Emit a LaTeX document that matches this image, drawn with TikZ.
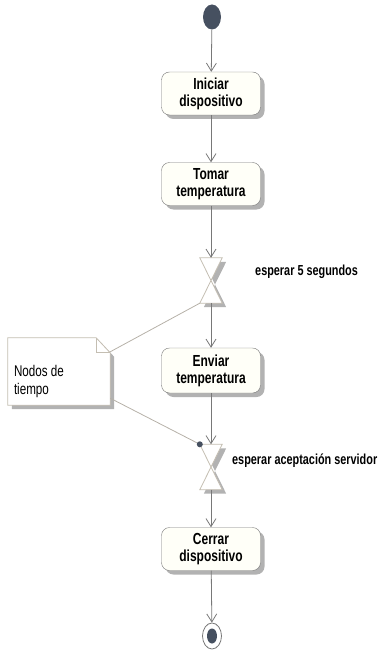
\documentclass[tikz,border=0pt]{standalone}
\usepackage{fontspec}
\setmainfont{Liberation Sans}[FakeStretch=0.75]
\usetikzlibrary{arrows.meta,shapes.geometric,shadows,backgrounds}
\definecolor{linea}{RGB}{120,120,120}
\definecolor{caja}{RGB}{255,255,248}
\definecolor{sombra}{RGB}{178,178,178}
\definecolor{oscuro}{RGB}{70,80,96}
\definecolor{borde}{RGB}{196,190,178}
\tikzset{
  sombreado/.style={drop shadow={shadow xshift=4pt, shadow yshift=-4pt, fill=sombra, opacity=1}},
  actividad/.style={draw=linea, fill=caja, rounded corners=8pt, minimum width=99pt,
    minimum height=43pt, align=center, sombreado,
    font=\bfseries\fontsize{16}{17}\selectfont},
  reloj/.style={minimum width=22pt, minimum height=45pt, inner sep=0pt},
  flujo/.style={draw=linea, line width=0.8pt, -{Straight Barb[length=8pt,width=10pt]}},
  enlace/.style={draw=borde!80!gray, line width=0.8pt},
  etiqueta/.style={anchor=west, inner sep=0pt, font=\bfseries\fontsize{14.5}{17}\selectfont}
}
\begin{document}
\begin{tikzpicture}[x=1pt, y=-1pt]
\useasboundingbox (0,0) rectangle (380,650);
\node [ellipse, fill=oscuro, minimum width=18pt, minimum height=25pt, inner sep=0pt] (inicio) at (212,17) {};
\node [actividad] (iniciar) at (211,93.5) {Iniciar\\dispositivo};
\node [actividad] (tomar) at (211,184) {Tomar\\temperatura};
\node [reloj] (espera1) at (211,280.5) {};
\node [actividad, minimum height=45pt] (enviar) at (211,370.5) {Enviar\\temperatura};
\node [reloj] (espera2) at (211,467) {};
\node [actividad] (cerrar) at (211,549) {Cerrar\\dispositivo};
\node [ellipse, draw=linea, fill=white, line width=0.8pt, minimum width=19pt, minimum height=26pt, inner sep=0pt] (fin) at (212,636) {};
\fill [oscuro] (fin.center) ellipse (5pt and 7.5pt);
\node [minimum width=102pt, minimum height=67pt, inner sep=0pt, font=\fontsize{15.5}{18}\selectfont] (nota) at (59,371.5)
  {\raisebox{-14pt}[0pt][0pt]{\parbox{90pt}{Nodos de\\tiempo}}};
\node [etiqueta] (texto1) at (255,272) {esperar 5 segundos};
\node [etiqueta] (texto2) at (232,461) {esperar aceptación servidor};
\begin{scope}[on background layer]
\foreach \r in {espera1,espera2}{
\draw [draw=borde, fill=white, line width=0.8pt, sombreado] (\r.north west) -- (\r.north east) -- (\r.south west) -- (\r.south east) -- cycle;
}
\draw [draw=borde, fill=white, line width=0.8pt, sombreado] (nota.north west) -- ([xshift=-14pt]nota.north east) -- ([yshift=-15pt]nota.north east) -- (nota.south east) -- (nota.south west) -- cycle;
\draw [draw=borde, line width=0.8pt] ([xshift=-14pt]nota.north east) -- ([xshift=-14pt,yshift=-15pt]nota.north east) -- ([yshift=-15pt]nota.north east);
\end{scope}
\draw [flujo] (inicio) -- (iniciar);
\draw [flujo] (iniciar) -- (tomar);
\draw [flujo] (tomar) -- (espera1);
\draw [flujo] (espera1) -- (enviar);
\draw [flujo] (enviar) -- (espera2);
\draw [flujo] (espera2) -- (cerrar);
\draw [flujo] (cerrar) -- (fin);
\draw [enlace] ([yshift=-14pt]nota.north east) -- (espera1.south west);
\draw [enlace] ([yshift=7pt]nota.south east) -- (espera2.north west);
\fill [oscuro] (espera2.north west) circle (3pt);
\end{tikzpicture}
\end{document}
